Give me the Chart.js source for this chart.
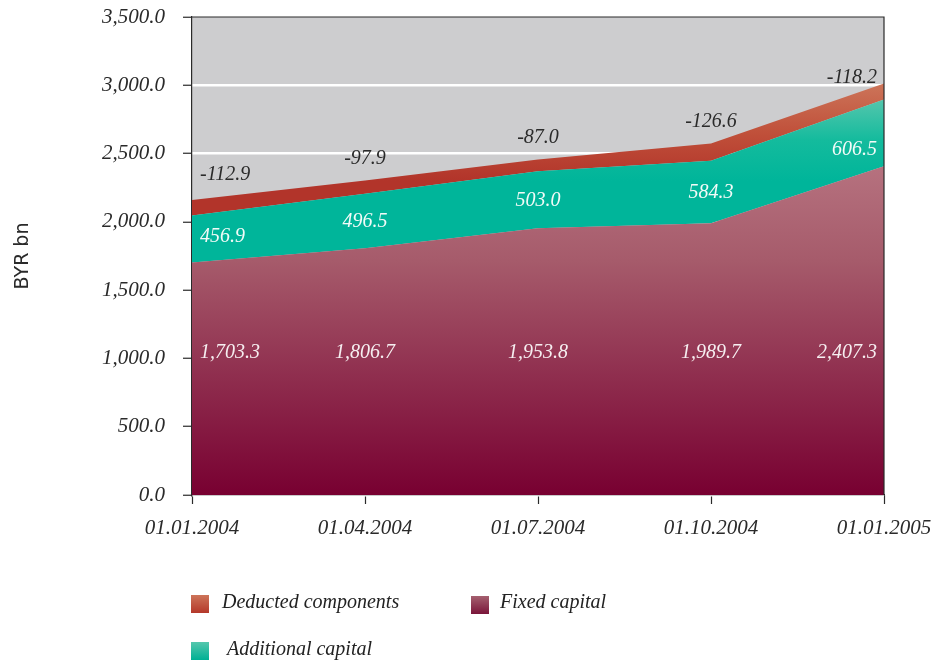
<!DOCTYPE html>
<html>
<head>
<meta charset="utf-8">
<script src="https://cdn.jsdelivr.net/npm/chart.js@4/dist/chart.umd.min.js"></script>
<style>
  html,body{margin:0;padding:0;background:#fff;}
  #wrap{position:relative;width:935px;height:665px;}
  canvas{position:absolute;left:0;top:0;}
  .lg{position:absolute;font:italic 20px 'Liberation Serif',serif;color:#222;white-space:nowrap;}
  .bx{position:absolute;width:18px;height:18px;}
</style>
</head>
<body>
<div id="wrap">
  <canvas id="c" width="935" height="665"></canvas>
  <div class="bx" style="left:191px;top:595px;background:linear-gradient(#cd7459,#b4382a);"></div>
  <div class="lg" style="left:222px;top:590px;">Deducted components</div>
  <div class="bx" style="left:471px;top:596px;background:linear-gradient(#a5606f,#7a1539);"></div>
  <div class="lg" style="left:500px;top:590px;">Fixed capital</div>
  <div class="bx" style="left:191px;top:642px;background:linear-gradient(#55c7ad,#00b094);"></div>
  <div class="lg" style="left:227px;top:637px;">Additional capital</div>
</div>
<script>
const categories = ['01.01.2004','01.04.2004','01.07.2004','01.10.2004','01.01.2005'];
const fixedCapital = [1703.3, 1806.7, 1953.8, 1989.7, 2407.3];
const additionalCapital = [456.9, 496.5, 503.0, 584.3, 606.5];
const deductedComponents = [-112.9, -97.9, -87.0, -126.6, -118.2];
const yTicks = [0, 500, 1000, 1500, 2000, 2500, 3000, 3500];

const netTop = fixedCapital.map((v,i)=>v + additionalCapital[i] + deductedComponents[i]);
const grossTop = fixedCapital.map((v,i)=>v + additionalCapital[i]);

function vGrad(ctx, area, stops, y0, y1){
  const g = ctx.createLinearGradient(0, y0, 0, y1);
  stops.forEach(s=>g.addColorStop(s[0], s[1]));
  return g;
}

const fmt = v => v.toLocaleString('en-US',{minimumFractionDigits:1, maximumFractionDigits:1});

function bandY(chart, dsIndex, x){
  const pts = chart.getDatasetMeta(dsIndex).data;
  for(let i=0;i<pts.length-1;i++){
    const a=pts[i], b=pts[i+1];
    if(x>=a.x && x<=b.x){
      const f=(x-a.x)/(b.x-a.x);
      return a.y + (b.y-a.y)*f;
    }
  }
  return x < pts[0].x ? pts[0].y : pts[pts.length-1].y;
}

const framePlugin = {
  id:'frame',
  beforeDraw(chart){
    const {ctx, chartArea:a} = chart;
    ctx.save();
    ctx.fillStyle = '#cdcdcf';
    ctx.fillRect(a.left, a.top, a.right-a.left, a.bottom-a.top);
    ctx.restore();
  },
  afterDatasetsDraw(chart){
    const {ctx, chartArea:a} = chart;
    ctx.save();
    ctx.strokeStyle = '#2a2a2a';
    ctx.lineWidth = 1.2;
    ctx.beginPath();
    ctx.moveTo(a.left, a.top); ctx.lineTo(a.right, a.top); ctx.lineTo(a.right, a.bottom);
    ctx.stroke();
    ctx.restore();
  }
};

const labelPlugin = {
  id:'vlabels',
  afterDatasetsDraw(chart){
    const ctx = chart.ctx;
    const y = chart.scales.y;
    const pts = chart.getDatasetMeta(0).data;
    const n = pts.length;
    ctx.save();
    ctx.font = 'italic 20px "Liberation Serif", serif';
    ctx.textBaseline = 'middle';
    pts.forEach((p,i)=>{
      let align='center', ax=p.x, cx=p.x;
      if(i===0){align='left'; ax=p.x+8; cx=ax+25;}
      else if(i===n-1){align='right'; ax=p.x-7; cx=ax-25;}
      ctx.textAlign = align;
      ctx.fillStyle = '#f6eef0';
      ctx.fillText(fmt(fixedCapital[i]), ax, y.getPixelForValue(1045));
      const mid = (bandY(chart,0,cx) + bandY(chart,1,cx))/2 + (i===n-1 ? 6 : 1);
      ctx.fillStyle = '#f2fbf8';
      ctx.fillText(fmt(additionalCapital[i]), ax, mid);
      ctx.fillStyle = '#2a2a2a';
      ctx.fillText(fmt(deductedComponents[i]), ax, bandY(chart,2,cx) - (i===n-1 ? 17 : 22));
    });
    ctx.restore();
  }
};

function noPad(s){ s.paddingTop=0; s.paddingBottom=0; s.paddingLeft=0; s.paddingRight=0; }

new Chart(document.getElementById('c'), {
  type:'line',
  data:{
    labels: categories,
    datasets:[
      {
        label:'Fixed capital',
        data: fixedCapital,
        fill:'origin',
        borderWidth:0, pointRadius:0, tension:0,
        backgroundColor:(c)=>{
          const a=c.chart.chartArea; if(!a) return '#a05';
          return vGrad(c.chart.ctx, a, [[0,'#b6727f'],[0.29,'#a65b6b'],[1,'#780031']], c.chart.scales.y.getPixelForValue(2420), a.bottom);
        }
      },
      {
        label:'Additional capital',
        data: netTop,
        fill:'-1',
        borderWidth:0, pointRadius:0, tension:0,
        backgroundColor:(c)=>{
          const a=c.chart.chartArea; if(!a) return '#0b9';
          const s=c.chart.scales.y;
          return vGrad(c.chart.ctx, a, [[0,'#55c6ad'],[0.5,'#14bb9d'],[1,'#00b59a']], s.getPixelForValue(2900), s.getPixelForValue(2300));
        }
      },
      {
        label:'Deducted components',
        data: grossTop,
        fill:'-1',
        borderWidth:0, pointRadius:0, tension:0,
        backgroundColor:(c)=>{
          const a=c.chart.chartArea; if(!a) return '#b33';
          const s=c.chart.scales.y;
          return vGrad(c.chart.ctx, a, [[0,'#cc7358'],[0.5,'#c0503a'],[1,'#b2342a']], s.getPixelForValue(3000), s.getPixelForValue(2300));
        }
      }
    ]
  },
  options:{
    responsive:false,
    animation:false,
    events:[],
    layout:{padding:{left:12, top:17, right:51, bottom:0}},
    plugins:{legend:{display:false}, tooltip:{enabled:false}},
    scales:{
      x:{
        offset:false,
        grid:{drawOnChartArea:false, tickLength:9, tickColor:'#2a2a2a', tickWidth:1.2},
        border:{color:'#2a2a2a', width:1.2},
        ticks:{color:'#2a2a2a', font:{family:'"Liberation Serif", serif', style:'italic', size:21}, padding:12, maxRotation:0},
        afterFit(s){ s.height = 170; noPad(s); }
      },
      y:{
        min:0, max:3500,
        afterBuildTicks(s){ s.ticks = yTicks.map(v=>({value:v})); },
        grid:{color:(c)=> (c.tick && c.tick.value===3500) ? 'rgba(0,0,0,0)' : '#ffffff', lineWidth:2.5, tickLength:9, tickColor:'#2a2a2a', tickWidth:1.2},
        border:{color:'#2a2a2a', width:1.2},
        ticks:{color:'#2a2a2a', font:{family:'"Liberation Serif", serif', style:'italic', size:21}, padding:18, callback:(v)=>fmt(v)},
        title:{display:true, text:'BYR bn', color:'#2a2a2a', font:{family:'"DejaVu Sans", sans-serif', size:19}, padding:{top:0,bottom:0}},
        afterFit(s){ s.width = 180; noPad(s); }
      }
    }
  },
  plugins:[framePlugin, labelPlugin]
});
</script>
</body>
</html>
